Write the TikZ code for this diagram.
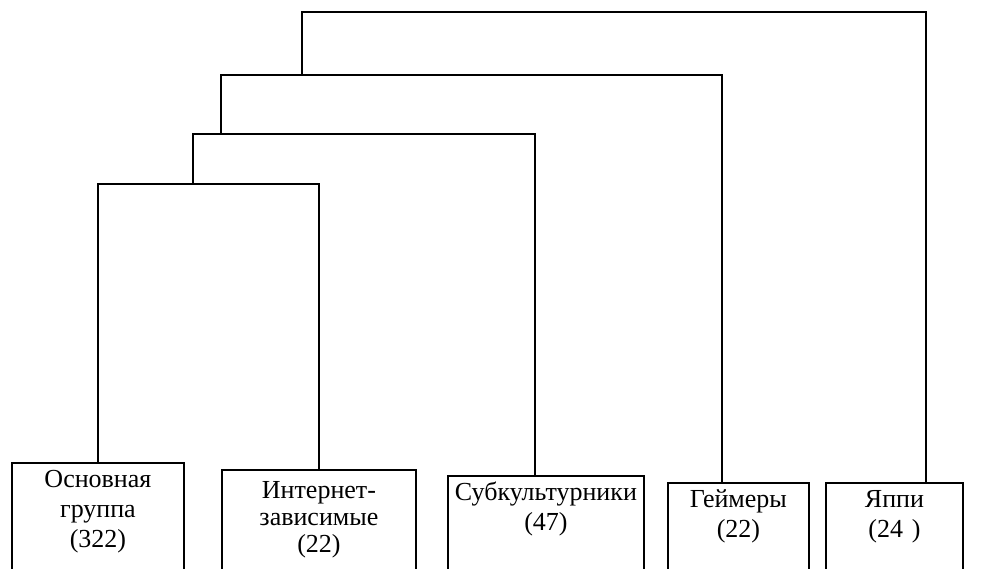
\documentclass[tikz,border=0pt]{standalone}
\usepackage{fontspec}
\setmainfont{Liberation Serif}
\usepackage{tikz}

\begin{document}
\begin{tikzpicture}[x=1pt,y=-1pt,line width=1.9pt,
		grp/.style={draw,anchor=north west,align=center,inner xsep=0pt,inner ysep=6pt,text depth=120pt,font=\fontsize{26}{30}\selectfont}]
		\useasboundingbox (0,0) rectangle (991,568);
		\clip (0,0) rectangle (991,568);
		\node[grp,text width=172pt,text height=19pt] (osn) at (11,462) {Основная\\группа\\(322)};
		\node[grp,text width=194pt,text height=23pt,font=\fontsize{26}{27}\selectfont] (inet) at (221,469) {Интернет-\\зависимые\\(22)};
		\node[grp,text width=196pt,text height=19pt] (subk) at (447,475) {Субкультурники\\(47)};
		\node[grp,text width=141pt,text height=19pt] (geim) at (667,482) {Геймеры\\(22)};
		\node[grp,text width=137pt,text height=19pt] (yapp) at (825,482) {Яппи\\(24 )};
		\coordinate (j1) at (193,184);
		\coordinate (j2) at (221,134);
		\coordinate (j3) at (302,75);
		\coordinate (j4) at (302,12);
		\draw (osn.north) |- (j1) -| (inet.north);
		\draw (j1) |- (j2) -| ([xshift=-11pt]subk.north);
		\draw (j2) |- (j3) -| ([xshift=-16.5pt]geim.north);
		\draw (j3) -- (j4) -| ([xshift=31.5pt]yapp.north);
\end{tikzpicture}
\end{document}
